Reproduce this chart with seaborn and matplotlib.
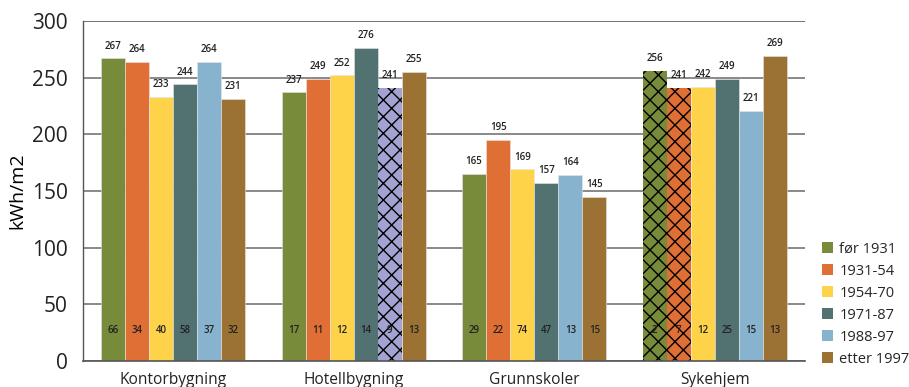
import matplotlib
matplotlib.use("Agg")
import matplotlib.pyplot as plt
import seaborn as sns
import pandas as pd

categories = ["Kontorbygning", "Hotellbygning", "Grunnskoler", "Sykehjem"]
periods = ["før 1931", "1931-54", "1954-70", "1971-87", "1988-97", "etter 1997"]

kontor = [267, 264, 233, 244, 264, 231]
hotell = [237, 249, 252, 276, 241, 255]
grunnskoler = [165, 195, 169, 157, 164, 145]
sykehjem = [256, 241, 242, 249, 221, 269]

n_kontor = [66, 34, 40, 58, 37, 32]
n_hotell = [17, 11, 12, 14, 9, 13]
n_grunnskoler = [29, 22, 74, 47, 13, 15]
n_sykehjem = [2, 7, 12, 25, 15, 13]

colors = ["#778b3a", "#e06f35", "#fed34a", "#527271", "#87b3cf", "#9b7233"]
hatched_fill = "#a3a3d3"

values = [kontor, hotell, grunnskoler, sykehjem]
counts = [n_kontor, n_hotell, n_grunnskoler, n_sykehjem]

rows = []
for cat, vals, ns in zip(categories, values, counts):
    for per, v, n in zip(periods, vals, ns):
        rows.append({"kategori": cat, "periode": per, "kWh": v, "antall": n})
df = pd.DataFrame(rows)

sns.set_theme(style="white")
plt.rcParams["font.family"] = ["Open Sans", "DejaVu Sans"]
plt.rcParams["hatch.linewidth"] = 1.0

fig = plt.figure(figsize=(9.09, 3.87), dpi=100)
ax = fig.add_axes([0.0913, 0.0672, 0.7943, 0.8785])

sns.barplot(data=df, x="kategori", y="kWh", hue="periode", order=categories,
            hue_order=periods, palette=colors, saturation=1, width=0.8, ax=ax,
            edgecolor="#e6e6e6", linewidth=0.4, legend=False, errorbar=None)

# Small-sample bars are marked with a cross hatch
small_sample = {("Hotellbygning", "1988-97"): hatched_fill,
                ("Sykehjem", "før 1931"): None,
                ("Sykehjem", "1931-54"): None}

for hi, (per, cont) in enumerate(zip(periods, ax.containers)):
    for ci, (cat, bar) in enumerate(zip(categories, cont)):
        v = values[ci][hi]
        n = counts[ci][hi]
        x = bar.get_x() + bar.get_width() / 2
        key = (cat, per)
        if key in small_sample:
            bar.set_hatch("xx")
            bar.set_edgecolor("black")
            bar.set_linewidth(0)
            if small_sample[key]:
                bar.set_facecolor(small_sample[key])
        ax.text(x, v + 6, f"{v}", ha="center", va="bottom", fontsize=7,
                color="#222222", fontweight="semibold")
        ax.text(x, 27, f"{n}", ha="center", va="center", fontsize=7,
                color="#222222", fontweight="semibold")

ax.set_xlim(-0.5, 3.5)
ax.set_ylim(0, 300)
ax.set_yticks(range(0, 301, 50))
ax.yaxis.grid(True, color="#808080", linewidth=1.3)
ax.set_axisbelow(True)
ax.axhline(300, color="black", linewidth=1.3, zorder=0)
ax.tick_params(axis="y", labelsize=15, length=0, pad=11, colors="#222222")
ax.tick_params(axis="x", labelsize=11.2, length=0, pad=8, colors="#222222")
ax.set_xlabel("")
ax.set_ylabel("kWh/m2", fontsize=14, color="black", labelpad=4)

for side in ["top", "right"]:
    ax.spines[side].set_visible(False)
ax.spines["left"].set_color("#555555")
ax.spines["bottom"].set_color("#555555")
ax.spines["left"].set_linewidth(1.0)
ax.spines["bottom"].set_linewidth(1.2)

handles = [plt.Rectangle((0, 0), 1, 1, facecolor=c, edgecolor="none") for c in colors]
ax.legend(handles, periods, loc="lower left", bbox_to_anchor=(1.005, -0.055),
          frameon=False, fontsize=10.5, handlelength=0.8, handleheight=0.8,
          handletextpad=0.4, labelspacing=0.48)

fig.savefig("out.png", dpi=100)
